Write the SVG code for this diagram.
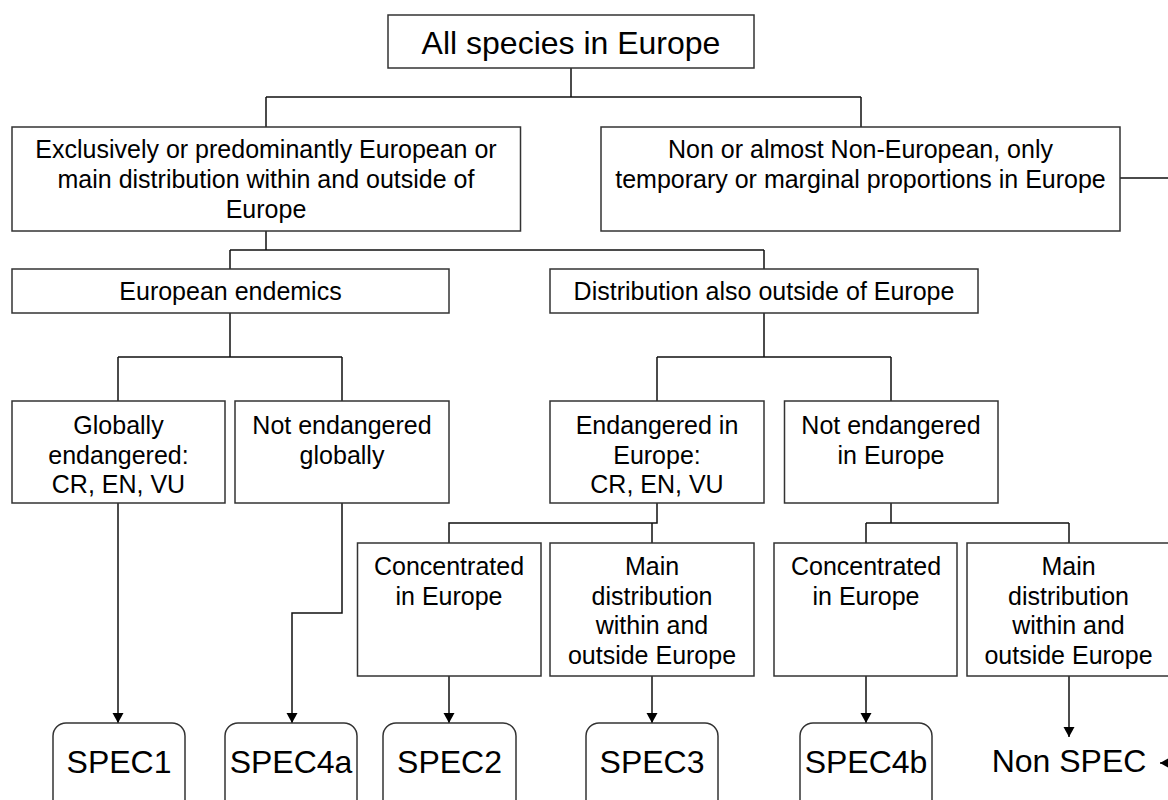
<svg xmlns="http://www.w3.org/2000/svg" width="1168" height="800" viewBox="0 0 1168 800">
<style>
.box{fill:#fff;stroke:#333;stroke-width:1.5}
.t{font-family:"Liberation Sans",Arial,sans-serif;font-size:25px;fill:#000;text-anchor:middle}
.big{font-family:"Liberation Sans",Arial,sans-serif;font-size:32px;fill:#000;text-anchor:middle}
.c{fill:none;stroke:#111;stroke-width:1.5}
</style>
<defs>
<marker id="ah" markerUnits="userSpaceOnUse" markerWidth="12" markerHeight="12" refX="10" refY="5.5" orient="auto">
<path d="M0,0 L10,5.5 L0,11 z" fill="#000"/>
</marker>
</defs>
<rect width="1168" height="800" fill="#fff"/>
<g id="connectors">
<path class="c" d="M571,68 V97 M266,97 H861 M266,97 V127 M861,97 V127"/>
<path class="c" d="M266,231 V250 M230,250 H764 M230,250 V269 M764,250 V269"/>
<path class="c" d="M230,313 V357 M118,357 H342 M118,357 V401 M342,357 V401"/>
<path class="c" d="M764,313 V357 M657,357 H891 M657,357 V401 M891,357 V401"/>
<path class="c" d="M118,503 V723" marker-end="url(#ah)"/>
<path class="c" d="M342,503 V613 H292 V723" marker-end="url(#ah)"/>
<path class="c" d="M657,503 V523 H449 V543 M652,523 V543"/>
<path class="c" d="M449,676 V723" marker-end="url(#ah)"/>
<path class="c" d="M652,676 V723" marker-end="url(#ah)"/>
<path class="c" d="M891,503 V523 M866,523 H1069 M866,523 V543 M1069,523 V543"/>
<path class="c" d="M866,676 V723" marker-end="url(#ah)"/>
<path class="c" d="M1069,676 V737" marker-end="url(#ah)"/>
<path class="c" d="M1120,178 H1185 V763 H1160" marker-end="url(#ah)"/>
</g>
<g id="n-all"><rect class="box" x="388" y="15" width="366" height="53"/><text class="big" x="571" y="54">All species in Europe</text></g>
<g id="n-excl"><rect class="box" x="12" y="127" width="508.5" height="104"/>
<text class="t" x="266" y="158">Exclusively or predominantly European or</text>
<text class="t" x="266" y="188">main distribution within and outside of</text>
<text class="t" x="266" y="217.5">Europe</text></g>
<g id="n-noneu"><rect class="box" x="601" y="127" width="519" height="104"/>
<text class="t" x="860.5" y="158">Non or almost Non-European, only</text>
<text class="t" x="860.5" y="188">temporary or marginal proportions in Europe</text></g>
<g id="n-endemics"><rect class="box" x="12" y="269" width="437" height="44"/><text class="t" x="230.5" y="300">European endemics</text></g>
<g id="n-distrib"><rect class="box" x="550" y="269" width="428" height="44"/><text class="t" x="764" y="300">Distribution also outside of Europe</text></g>
<g id="n-glob"><rect class="box" x="12" y="401" width="213" height="102"/>
<text class="t" x="118.5" y="434">Globally</text><text class="t" x="118.5" y="463.5">endangered:</text><text class="t" x="118.5" y="493">CR, EN, VU</text></g>
<g id="n-notglob"><rect class="box" x="235" y="401" width="214" height="102"/>
<text class="t" x="342" y="434">Not endangered</text><text class="t" x="342" y="463.5">globally</text></g>
<g id="n-endeu"><rect class="box" x="550" y="401" width="214" height="102"/>
<text class="t" x="657" y="434">Endangered in</text><text class="t" x="657" y="463.5">Europe:</text><text class="t" x="657" y="493">CR, EN, VU</text></g>
<g id="n-noteu"><rect class="box" x="784.5" y="401" width="213.5" height="102"/>
<text class="t" x="891" y="434">Not endangered</text><text class="t" x="891" y="463.5">in Europe</text></g>
<g id="n-conc1"><rect class="box" x="357.5" y="543" width="183.5" height="133"/>
<text class="t" x="449" y="575">Concentrated</text><text class="t" x="449" y="604.5">in Europe</text></g>
<g id="n-main1"><rect class="box" x="550" y="543" width="204" height="133"/>
<text class="t" x="652" y="575">Main</text><text class="t" x="652" y="604.5">distribution</text><text class="t" x="652" y="634">within and</text><text class="t" x="652" y="663.5">outside Europe</text></g>
<g id="n-conc2"><rect class="box" x="774" y="543" width="183" height="133"/>
<text class="t" x="866" y="575">Concentrated</text><text class="t" x="866" y="604.5">in Europe</text></g>
<g id="n-main2"><rect class="box" x="967" y="543" width="204" height="133"/>
<text class="t" x="1068.5" y="575">Main</text><text class="t" x="1068.5" y="604.5">distribution</text><text class="t" x="1068.5" y="634">within and</text><text class="t" x="1068.5" y="663.5">outside Europe</text></g>
<g id="n-spec1"><rect class="box" x="53" y="723" width="132" height="100" rx="13"/><text class="big" x="119" y="773">SPEC1</text></g>
<g id="n-spec4a"><rect class="box" x="225" y="723" width="132" height="100" rx="13"/><text class="big" x="291" y="773">SPEC4a</text></g>
<g id="n-spec2"><rect class="box" x="383" y="723" width="133" height="100" rx="13"/><text class="big" x="449.5" y="773">SPEC2</text></g>
<g id="n-spec3"><rect class="box" x="586" y="723" width="132" height="100" rx="13"/><text class="big" x="652" y="773">SPEC3</text></g>
<g id="n-spec4b"><rect class="box" x="800" y="723" width="132" height="100" rx="13"/><text class="big" x="866" y="773">SPEC4b</text></g>
<g id="n-nonspec"><text class="big" x="1069" y="772">Non SPEC</text></g>
</svg>
